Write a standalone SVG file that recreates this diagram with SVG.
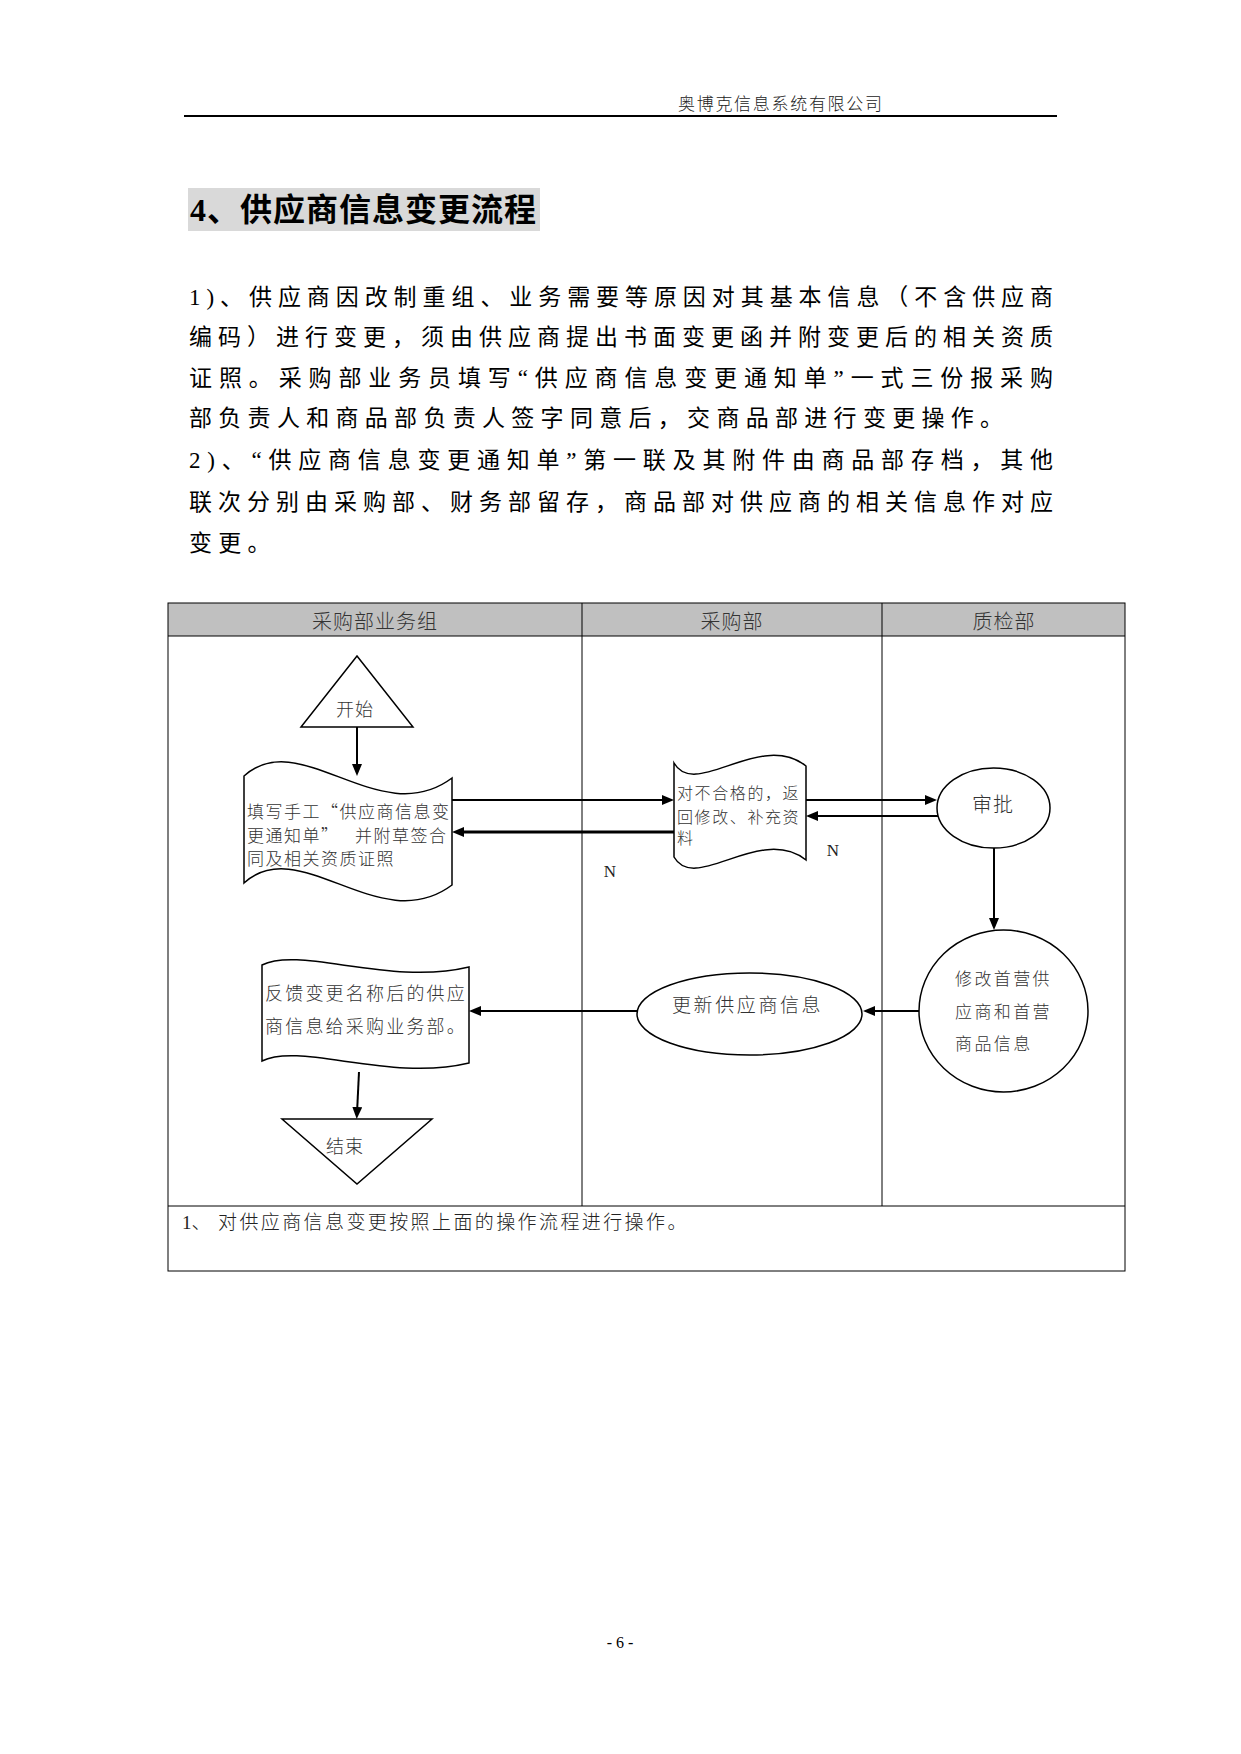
<svg xmlns="http://www.w3.org/2000/svg" width="1241" height="1754" viewBox="0 0 1241 1754">
<defs>
<style>
.cjk{font-family:"Noto Sans CJK SC","Noto Sans CJK JP",sans-serif;font-weight:300;}
.mix{font-family:"Liberation Serif","Noto Sans CJK SC",serif;font-weight:300;}
.body{font-family:"Liberation Serif","Noto Sans CJK SC",serif;font-weight:400;}
.ser{font-family:"Liberation Serif",serif;}
.c{dominant-baseline:central;}
.shape{fill:#fff;stroke:#000;stroke-width:1.5;}
.lane{fill:none;stroke:#000;stroke-width:1;}
.conn{fill:none;stroke:#000;stroke-width:2;}
.thick{stroke-width:3;}
.dtext{fill:#333;}
</style>
<marker id="ah" markerUnits="userSpaceOnUse" viewBox="0 0 12 10" markerWidth="12" markerHeight="10" refX="6" refY="5" orient="auto">
<path d="M0,0 L12,5 L0,10 z" fill="#000"/>
</marker>
</defs>
<rect width="1241" height="1754" fill="#fff"/>

<g id="page-header">
<text class="cjk c" x="678" y="102" font-size="17" textLength="204" lengthAdjust="spacing" fill="#222">奥博克信息系统有限公司</text>
<line x1="184" y1="116" x2="1057" y2="116" stroke="#000" stroke-width="2"/>
</g>

<g id="title">
<rect x="188" y="188" width="352" height="43" fill="#d9d9d9"/>
<text class="body c" x="190" y="210" font-size="32" style="font-weight:700" textLength="346" lengthAdjust="spacing" fill="#000">4、供应商信息变更流程</text>
</g>

<g id="body-text" fill="#000">
<text class="body c" x="189" y="297" font-size="23" textLength="864" lengthAdjust="spacing">1)、供应商因改制重组、业务需要等原因对其基本信息（不含供应商</text>
<text class="body c" x="189" y="337" font-size="23" textLength="864" lengthAdjust="spacing">编码）进行变更，须由供应商提出书面变更函并附变更后的相关资质</text>
<text class="body c" x="189" y="378" font-size="23" textLength="864" lengthAdjust="spacing">证照。采购部业务员填写“供应商信息变更通知单”一式三份报采购</text>
<text class="body c" x="189" y="418" font-size="23" letter-spacing="6.3">部负责人和商品部负责人签字同意后，交商品部进行变更操作。</text>
<text class="body c" x="189" y="460" font-size="23" textLength="864" lengthAdjust="spacing">2)、“供应商信息变更通知单”第一联及其附件由商品部存档，其他</text>
<text class="body c" x="189" y="502" font-size="23" textLength="864" lengthAdjust="spacing">联次分别由采购部、财务部留存，商品部对供应商的相关信息作对应</text>
<text class="body c" x="189" y="543" font-size="23" letter-spacing="6.3">变更。</text>
</g>

<g id="swimlanes">
<rect x="168" y="603" width="957" height="33" fill="#c0c0c0"/>
<rect class="lane" x="168" y="603" width="957" height="668"/>
<line class="lane" x1="168" y1="636" x2="1125" y2="636"/>
<line class="lane" x1="582" y1="603" x2="582" y2="1206"/>
<line class="lane" x1="882" y1="603" x2="882" y2="1206"/>
<line class="lane" x1="168" y1="1206" x2="1125" y2="1206"/>
<text class="cjk c" x="375" y="620" font-size="20" text-anchor="middle" fill="#333" letter-spacing="1">采购部业务组</text>
<text class="cjk c" x="732" y="620" font-size="20" text-anchor="middle" fill="#333" letter-spacing="1">采购部</text>
<text class="cjk c" x="1004" y="620" font-size="20" text-anchor="middle" fill="#333" letter-spacing="1">质检部</text>
</g>

<g id="connectors">
<line class="conn" x1="357" y1="727" x2="357" y2="770" marker-end="url(#ah)"/>
<line class="conn" x1="452" y1="800" x2="668" y2="800" marker-end="url(#ah)"/>
<line class="conn thick" x1="674" y1="832" x2="458" y2="832" marker-end="url(#ah)"/>
<line class="conn" x1="806" y1="800" x2="931" y2="800" marker-end="url(#ah)"/>
<line class="conn" x1="938" y1="816" x2="812" y2="816" marker-end="url(#ah)"/>
<line class="conn" x1="994" y1="848" x2="994" y2="924" marker-end="url(#ah)"/>
<line class="conn" x1="919" y1="1011" x2="869" y2="1011" marker-end="url(#ah)"/>
<line class="conn" x1="637" y1="1011" x2="475" y2="1011" marker-end="url(#ah)"/>
<line class="conn" x1="359" y1="1072" x2="357" y2="1113" marker-end="url(#ah)"/>
</g>

<g id="n-start">
<polygon class="shape" points="357,656 301,727 413,727"/>
<text class="cjk c dtext" x="355" y="708" font-size="18" text-anchor="middle" letter-spacing="1">开始</text>
</g>

<g id="n-fill">
<path class="shape" d="M244,776 C300,725 380,832 452,778 L452,885 C380,939 300,832 244,883 Z"/>
<text class="cjk c dtext" font-size="17" letter-spacing="1.5">
<tspan x="247" y="810">填写手工“供应商信息变</tspan>
<tspan x="247" y="834">更通知单”</tspan><tspan x="355" y="834">并附草签合</tspan>
<tspan x="247" y="857">同及相关资质证照</tspan>
</text>
</g>

<g id="n-return">
<path class="shape" d="M674,763 C695,800 760,730 806,766 L806,860 C760,824 695,894 674,857 Z"/>
<text class="cjk c dtext" font-size="16" letter-spacing="1.6">
<tspan x="677" y="792">对不合格的，返</tspan>
<tspan x="677" y="816">回修改、补充资</tspan>
<tspan x="677" y="837">料</tspan>
</text>
</g>

<g id="n-approve">
<ellipse class="shape" cx="993.5" cy="808" rx="56.5" ry="40"/>
<text class="cjk c dtext" x="993" y="803" font-size="20" text-anchor="middle" letter-spacing="1">审批</text>
</g>

<g id="n-modify">
<ellipse class="shape" cx="1003.5" cy="1011" rx="84.5" ry="81"/>
<text class="cjk c dtext" font-size="17" letter-spacing="2.4">
<tspan x="955" y="977">修改首营供</tspan>
<tspan x="955" y="1010">应商和首营</tspan>
<tspan x="955" y="1042">商品信息</tspan>
</text>
</g>

<g id="n-update">
<ellipse class="shape" cx="749.5" cy="1014" rx="112.5" ry="41"/>
<text class="cjk c dtext" x="672" y="1003" font-size="19" letter-spacing="2.6">更新供应商信息</text>
</g>

<g id="n-feedback">
<path class="shape" d="M262,965 C300,946 390,986 469,967 L469,1063 C390,1082 300,1042 262,1061 Z"/>
<text class="cjk c dtext" font-size="18" letter-spacing="2.2">
<tspan x="265" y="992">反馈变更名称后的供应</tspan>
<tspan x="265" y="1025">商信息给采购业务部。</tspan>
</text>
</g>

<g id="n-end">
<polygon class="shape" points="282,1119 432,1119 357,1184"/>
<text class="cjk c dtext" x="345" y="1145" font-size="18" text-anchor="middle" letter-spacing="1">结束</text>
</g>

<g id="labels">
<text class="ser c" x="610" y="871" font-size="17" text-anchor="middle" fill="#222">N</text>
<text class="ser c" x="833" y="850" font-size="17" text-anchor="middle" fill="#222">N</text>
</g>

<g id="footnote">
<text class="mix c" x="182" y="1222" font-size="19" fill="#222">1、</text>
<text class="mix c" x="218" y="1222" font-size="19" fill="#222" letter-spacing="2.4">对供应商信息变更按照上面的操作流程进行操作。</text>
</g>

<g id="page-number">
<text class="ser c" x="620" y="1642" font-size="16" text-anchor="middle" fill="#000">- 6 -</text>
</g>
</svg>
